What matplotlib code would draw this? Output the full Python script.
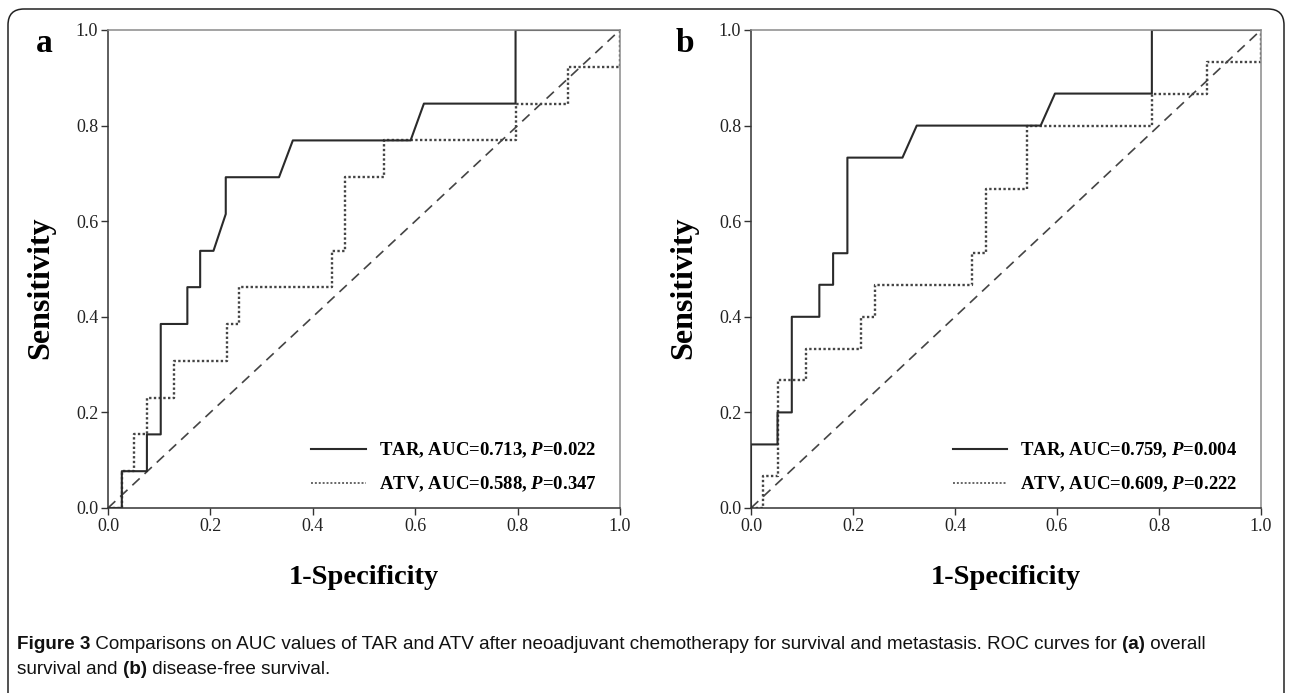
import matplotlib
matplotlib.use('Agg')
import matplotlib.pyplot as plt
from matplotlib.lines import Line2D
from matplotlib.patches import FancyBboxPatch
from matplotlib.transforms import IdentityTransform

plt.rcParams['font.family'] = ['Liberation Serif', 'DejaVu Serif']
plt.rcParams['mathtext.fontset'] = 'custom'
plt.rcParams['mathtext.it'] = 'Liberation Serif:bold:italic'
plt.rcParams['mathtext.rm'] = 'Liberation Serif:bold'

# === ROC data ===
# panel a: overall survival
fpr_a_tar = [0, 0.027, 0.027, 0.076, 0.076, 0.103, 0.103, 0.155, 0.155, 0.180, 0.180,
             0.206, 0.230, 0.230, 0.334, 0.361, 0.591, 0.617, 0.796, 0.796, 1.0]
tpr_a_tar = [0, 0, 0.077, 0.077, 0.154, 0.154, 0.385, 0.385, 0.462, 0.462, 0.538,
             0.538, 0.615, 0.692, 0.692, 0.769, 0.769, 0.846, 0.846, 1.0, 1.0]
fpr_a_atv = [0, 0.027, 0.027, 0.051, 0.051, 0.077, 0.077, 0.129, 0.129, 0.232, 0.232,
             0.256, 0.256, 0.437, 0.437, 0.463, 0.463, 0.540, 0.540, 0.796, 0.796,
             0.899, 0.899, 1.0, 1.0]
tpr_a_atv = [0, 0, 0.077, 0.077, 0.154, 0.154, 0.231, 0.231, 0.308, 0.308, 0.385,
             0.385, 0.462, 0.462, 0.538, 0.538, 0.692, 0.692, 0.769, 0.769, 0.846,
             0.846, 0.923, 0.923, 1.0]

# panel b: disease-free survival
fpr_b_tar = [0, 0, 0.052, 0.052, 0.080, 0.080, 0.134, 0.134, 0.161, 0.161, 0.189,
             0.189, 0.297, 0.325, 0.568, 0.596, 0.786, 0.786, 1.0]
tpr_b_tar = [0, 0.133, 0.133, 0.2, 0.2, 0.4, 0.4, 0.467, 0.467, 0.533, 0.533,
             0.733, 0.733, 0.8, 0.8, 0.867, 0.867, 1.0, 1.0]
fpr_b_atv = [0, 0.024, 0.024, 0.052, 0.052, 0.107, 0.107, 0.215, 0.215, 0.243, 0.243,
             0.433, 0.433, 0.460, 0.460, 0.542, 0.542, 0.786, 0.786, 0.895, 0.895,
             1.0, 1.0]
tpr_b_atv = [0, 0, 0.067, 0.067, 0.267, 0.267, 0.333, 0.333, 0.4, 0.4, 0.467,
             0.467, 0.533, 0.533, 0.667, 0.667, 0.8, 0.8, 0.867, 0.867, 0.933,
             0.933, 1.0]

labels_a = [r'TAR, AUC=0.713, $P$=0.022', r'ATV, AUC=0.588, $P$=0.347']
labels_b = [r'TAR, AUC=0.759, $P$=0.004', r'ATV, AUC=0.609, $P$=0.222']
ticks = [0.0, 0.2, 0.4, 0.6, 0.8, 1.0]
tick_labels = ['0.0', '0.2', '0.4', '0.6', '0.8', '1.0']

W, H = 1292, 693
fig = plt.figure(figsize=(W / 100, H / 100), dpi=100)

# outer rounded frame
frame = FancyBboxPatch((8, -30), 1276, H - 9 + 30,
                       boxstyle='round,pad=0,rounding_size=16',
                       transform=IdentityTransform(), fill=False,
                       edgecolor='#222222', linewidth=1.1)
fig.patches.append(frame)


def panel(left_px, right_px, fpr_tar, tpr_tar, fpr_atv, tpr_atv, labels, letter, letter_x):
    ax = fig.add_axes([left_px / W, 1 - 508 / H, (right_px - left_px) / W, 478 / H])
    ax.plot([0, 1], [0, 1], color='#444444', lw=1.2, ls=(0, (6, 4)))
    ax.plot(fpr_atv, tpr_atv, color='#444444', lw=1.7, ls=(0, (1, 1)))
    ax.plot(fpr_tar, tpr_tar, color='#2a2a2a', lw=1.5)
    ax.set_xlim(0, 1)
    ax.set_ylim(0, 1)
    ax.set_xticks(ticks)
    ax.set_xticklabels(tick_labels)
    ax.set_yticks(ticks)
    ax.set_yticklabels(tick_labels)
    ax.tick_params(direction='out', length=5, width=1, color='#333333',
                   labelsize=13, labelcolor='#222222', pad=2)
    for s in ['top', 'right']:
        ax.spines[s].set_color('#8a8a8a')
    for s in ['left', 'bottom']:
        ax.spines[s].set_color('#333333')
    for s in ax.spines.values():
        s.set_linewidth(1.1)
    ax.set_xlabel('1-Specificity', fontsize=20.5, fontweight='bold')
    ax.set_ylabel('Sensitivity', fontsize=23, fontweight='bold')
    ax.xaxis.set_label_coords(0.5, -0.12)
    ax.yaxis.set_label_coords(-0.104, 0.46)

    handles = [Line2D([], [], color='#2a2a2a', lw=1.5),
               Line2D([], [], color='#666666', lw=1.4, ls=(0, (1, 1)))]
    ax.legend(handles, labels, loc='lower right', frameon=False,
              prop={'size': 13.5, 'weight': 'bold'}, handlelength=2.9,
              handletextpad=0.7, labelspacing=0.75,
              bbox_to_anchor=(0.987, -0.006))
    fig.text(letter_x / W, 1 - 52 / H, letter, fontsize=24, fontweight='bold',
             va='baseline')
    return ax


panel(108, 620, fpr_a_tar, tpr_a_tar, fpr_a_atv, tpr_a_atv, labels_a, 'a', 36)
panel(751, 1261, fpr_b_tar, tpr_b_tar, fpr_b_atv, tpr_b_atv, labels_b, 'b', 676)

# === caption with mixed weights ===
cap_font = ['Liberation Sans Narrow', 'Liberation Sans', 'DejaVu Sans']
line1 = [('Figure 3', 'bold'),
         (' Comparisons on AUC values of TAR and ATV after neoadjuvant chemotherapy '
          'for survival and metastasis. ROC curves for ', 'normal'),
         ('(a)', 'bold'), (' overall', 'normal')]
line2 = [('survival and ', 'normal'), ('(b)', 'bold'), (' disease-free survival.', 'normal')]

renderer = fig.canvas.get_renderer()


def caption_line(runs, y_px, size):
    x = 17
    for txt, wt in runs:
        t = fig.text(x / W, 1 - y_px / H, txt, fontsize=size, fontweight=wt,
                     family=cap_font, color='#111111', va='baseline')
        x += t.get_window_extent(renderer).width
    return x


caption_line(line1, 649, 13.6)
caption_line(line2, 674, 13.6)

fig.savefig('out.png', dpi=100)
